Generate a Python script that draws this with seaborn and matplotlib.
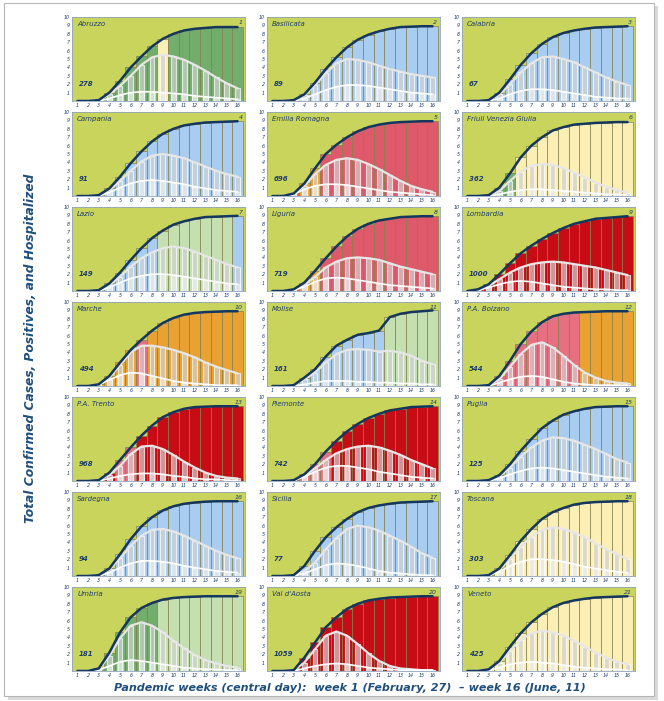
import numpy as np
import pandas as pd
import seaborn as sns
import matplotlib.pyplot as plt
from matplotlib.patches import Rectangle

weeks = list(range(1, 17))

regions = ['Abruzzo', 'Basilicata', 'Calabria', 'Campania', 'Emilia Romagna',
           'Friuli Venezia Giulia', 'Lazio', 'Liguria', 'Lombardia', 'Marche',
           'Molise', 'P.A. Bolzano', 'P.A. Trento', 'Piemonte', 'Puglia',
           'Sardegna', 'Sicilia', 'Toscana', 'Umbria', "Val d'Aosta", 'Veneto']
ranks = [1, 2, 3, 4, 5, 6, 7, 8, 9, 10, 11, 12, 13, 14, 15, 16, 17, 18, 19, 20, 21]
density = [278, 89, 67, 91, 696, 362, 149, 719, 1000, 494, 161, 544, 968, 742,
           125, 94, 77, 303, 181, 1059, 425]

# one letter per week -> colour of the cumulative bar
bar_codes = ['GGGGGGGGYGGGGGGG', 'BBBBBBBBBBBBBBBB', 'BBBBBBBBBBBBBBBB',
             'BBBBBBBBBBBBBBBB', 'RRROORRRRRRRRRRR', 'GGGGGYYYYYYYYYYY',
             'BBBBBBBBLLLLLLLB', 'RRROORRRRRRRRRRR', 'DDDDDDDDDDDDDDDD',
             'OOOOOOPOOOOOOOOO', 'BBBBBBBBBBBLLLLL', 'PPPPPPPPPPPOOOOO',
             'DDDDPPDDDDDDDDDD', 'DDDPPPDDDDDDDDDD', 'BBBBBBBBBBBBBBBB',
             'BBBBBBBBBBBBBBBB', 'BBBBBBBBBBBBBBBB', 'YYYYYYYYYYYYYYYY',
             'GGGGGGGGLLLLLLLL', 'DDDDDDDDDDDDDDDD', 'YYYYYYYYYYYYYYYY']

total = [
    [0, 0, 0.1, 1.0, 2.4, 4.0, 5.3, 6.5, 7.4, 8.0, 8.4, 8.6, 8.7, 8.8, 8.8, 8.8],
    [0, 0, 0.1, 0.8, 2.2, 3.8, 5.2, 6.4, 7.3, 7.9, 8.3, 8.6, 8.8, 8.85, 8.9, 8.9],
    [0, 0, 0.1, 1.0, 2.6, 4.3, 5.7, 6.8, 7.6, 8.1, 8.4, 8.6, 8.75, 8.8, 8.85, 8.9],
    [0, 0, 0.1, 0.9, 2.3, 3.9, 5.3, 6.5, 7.4, 8.0, 8.4, 8.6, 8.75, 8.8, 8.85, 8.9],
    [0, 0, 0.3, 1.5, 3.3, 5.0, 6.1, 7.0, 7.7, 8.2, 8.5, 8.7, 8.8, 8.85, 8.9, 8.9],
    [0, 0, 0.1, 1.0, 2.7, 4.6, 6.0, 7.0, 7.8, 8.2, 8.5, 8.6, 8.7, 8.75, 8.8, 8.8],
    [0, 0, 0.1, 0.9, 2.2, 3.7, 5.1, 6.3, 7.2, 7.9, 8.3, 8.6, 8.8, 8.85, 8.9, 8.95],
    [0, 0, 0.2, 1.0, 2.4, 3.9, 5.3, 6.5, 7.4, 8.0, 8.4, 8.6, 8.8, 8.85, 8.9, 8.9],
    [0, 0.2, 0.8, 2.0, 3.3, 4.5, 5.4, 6.2, 6.9, 7.5, 8.0, 8.3, 8.6, 8.7, 8.8, 8.9],
    [0, 0, 0.2, 1.2, 2.8, 4.3, 5.5, 6.6, 7.5, 8.1, 8.5, 8.7, 8.8, 8.85, 8.9, 8.9],
    [0, 0, 0.1, 1.0, 2.0, 3.5, 4.8, 5.5, 6.1, 6.3, 6.6, 8.2, 8.6, 8.8, 8.9, 9.0],
    [0, 0, 0.1, 1.2, 3.0, 5.0, 6.5, 7.6, 8.3, 8.6, 8.75, 8.8, 8.85, 8.9, 8.9, 8.9],
    [0, 0, 0.1, 1.0, 2.5, 4.0, 5.4, 6.6, 7.6, 8.2, 8.6, 8.8, 8.85, 8.9, 8.9, 8.9],
    [0, 0, 0.1, 0.8, 2.0, 3.5, 4.8, 5.9, 6.8, 7.5, 8.0, 8.4, 8.6, 8.8, 8.85, 8.9],
    [0, 0, 0.1, 0.7, 2.0, 3.6, 5.0, 6.3, 7.2, 7.9, 8.3, 8.6, 8.8, 8.85, 8.9, 8.9],
    [0, 0, 0.1, 0.9, 2.6, 4.4, 5.9, 7.0, 7.8, 8.3, 8.6, 8.75, 8.85, 8.9, 8.9, 8.9],
    [0, 0, 0.1, 1.2, 3.0, 4.6, 5.8, 6.8, 7.6, 8.1, 8.4, 8.6, 8.75, 8.8, 8.85, 8.9],
    [0, 0, 0.1, 0.9, 2.5, 4.2, 5.6, 6.8, 7.6, 8.1, 8.5, 8.7, 8.8, 8.85, 8.9, 8.9],
    [0, 0, 0.3, 2.2, 4.6, 6.4, 7.5, 8.1, 8.5, 8.7, 8.8, 8.85, 8.9, 8.9, 8.9, 8.9],
    [0, 0, 0.1, 1.6, 3.4, 5.2, 6.4, 7.4, 8.0, 8.4, 8.6, 8.75, 8.8, 8.85, 8.9, 8.9],
    [0, 0, 0.2, 1.2, 2.9, 4.5, 5.8, 6.8, 7.6, 8.1, 8.4, 8.6, 8.75, 8.8, 8.85, 8.9],
]

positives = [
    [0, 0, 0.1, 0.8, 1.8, 3.0, 4.3, 5.2, 5.5, 5.3, 4.9, 4.3, 3.6, 2.8, 2.1, 1.5],
    [0, 0, 0.1, 0.7, 1.9, 3.3, 4.5, 5.0, 4.9, 4.6, 4.2, 3.8, 3.5, 3.2, 3.0, 2.8],
    [0, 0, 0.1, 0.8, 2.0, 3.4, 4.5, 5.2, 5.3, 5.0, 4.6, 4.0, 3.4, 2.8, 2.3, 1.9],
    [0, 0, 0.1, 0.7, 1.8, 3.0, 4.1, 4.8, 5.0, 4.8, 4.5, 4.0, 3.5, 3.0, 2.6, 2.3],
    [0, 0, 0.3, 1.2, 2.6, 3.7, 4.3, 4.5, 4.3, 3.8, 3.2, 2.5, 1.8, 1.2, 0.8, 0.5],
    [0, 0, 0, 0.6, 1.8, 2.9, 3.6, 3.8, 3.7, 3.3, 2.8, 2.2, 1.6, 1.1, 0.7, 0.4],
    [0, 0, 0.1, 0.7, 1.7, 2.9, 3.9, 4.6, 5.1, 5.3, 5.1, 4.7, 4.2, 3.7, 3.2, 2.8],
    [0, 0, 0.1, 0.7, 1.7, 2.8, 3.5, 3.9, 4.0, 3.9, 3.7, 3.3, 2.9, 2.6, 2.3, 2.0],
    [0, 0.1, 0.6, 1.4, 2.2, 2.8, 3.2, 3.4, 3.5, 3.4, 3.2, 3.0, 2.8, 2.5, 2.2, 1.9],
    [0, 0, 0.2, 1.0, 2.5, 4.0, 4.8, 4.8, 4.6, 4.3, 3.9, 3.4, 2.8, 2.3, 1.9, 1.5],
    [0, 0, 0.1, 0.8, 1.6, 2.8, 3.8, 4.3, 4.4, 4.3, 4.1, 4.2, 4.0, 3.6, 3.0, 2.6],
    [0, 0, 0.1, 0.8, 2.3, 3.8, 4.9, 5.2, 4.6, 3.6, 2.5, 1.6, 1.0, 0.6, 0.4, 0.3],
    [0, 0, 0.1, 0.7, 1.8, 3.2, 4.1, 4.2, 3.8, 3.1, 2.3, 1.6, 1.0, 0.6, 0.4, 0.3],
    [0, 0, 0.1, 0.6, 1.5, 2.5, 3.3, 3.8, 4.1, 4.2, 4.0, 3.6, 3.1, 2.5, 2.0, 1.5],
    [0, 0, 0.1, 0.6, 1.6, 2.9, 4.0, 4.8, 5.2, 5.1, 4.8, 4.3, 3.8, 3.2, 2.6, 2.2],
    [0, 0, 0.1, 0.8, 2.1, 3.6, 4.8, 5.5, 5.6, 5.3, 4.8, 4.2, 3.6, 3.0, 2.5, 2.1],
    [0, 0, 0, 0.6, 1.6, 3.2, 4.5, 5.6, 6.0, 5.8, 5.4, 4.8, 4.2, 3.5, 2.7, 2.2],
    [0, 0, 0.1, 0.8, 2.0, 3.5, 4.7, 5.5, 5.8, 5.6, 5.2, 4.6, 3.9, 3.2, 2.6, 2.0],
    [0, 0, 0.2, 1.8, 3.9, 5.4, 5.8, 5.4, 4.6, 3.6, 2.7, 1.9, 1.3, 0.9, 0.6, 0.4],
    [0, 0, 0.1, 1.0, 2.6, 4.2, 4.7, 4.2, 3.2, 2.1, 1.2, 0.6, 0.3, 0.2, 0.1, 0.1],
    [0, 0, 0.2, 1.0, 2.4, 3.7, 4.5, 4.8, 4.6, 4.2, 3.6, 2.9, 2.2, 1.6, 1.1, 0.8],
]

hospitalized = [
    [0, 0, 0, 0.3, 0.7, 1.0, 1.1, 1.1, 1.0, 0.9, 0.8, 0.6, 0.5, 0.4, 0.3, 0.2],
    [0, 0, 0, 0.3, 0.8, 1.3, 1.7, 1.9, 1.9, 1.8, 1.6, 1.4, 1.2, 1.0, 0.9, 0.8],
    [0, 0, 0, 0.3, 0.8, 1.2, 1.4, 1.4, 1.3, 1.1, 0.9, 0.7, 0.5, 0.4, 0.3, 0.3],
    [0, 0, 0, 0.4, 1.0, 1.5, 1.8, 1.9, 1.8, 1.6, 1.4, 1.1, 0.9, 0.7, 0.6, 0.5],
    [0, 0, 0.2, 0.8, 1.2, 1.4, 1.4, 1.3, 1.1, 0.9, 0.7, 0.5, 0.4, 0.3, 0.2, 0.1],
    [0, 0, 0, 0.2, 0.5, 0.7, 0.8, 0.8, 0.7, 0.6, 0.5, 0.4, 0.3, 0.2, 0.2, 0.1],
    [0, 0, 0, 0.4, 1.0, 1.5, 1.8, 2.0, 2.0, 1.9, 1.7, 1.5, 1.3, 1.1, 0.9, 0.8],
    [0, 0, 0.1, 0.5, 1.1, 1.5, 1.6, 1.5, 1.3, 1.1, 0.9, 0.7, 0.6, 0.5, 0.4, 0.3],
    [0, 0.1, 0.4, 0.8, 1.1, 1.2, 1.1, 0.9, 0.7, 0.5, 0.4, 0.3, 0.2, 0.2, 0.1, 0.1],
    [0, 0, 0.2, 0.7, 1.3, 1.6, 1.5, 1.2, 0.9, 0.6, 0.4, 0.3, 0.2, 0.1, 0.1, 0.1],
    [0, 0, 0, 0.2, 0.4, 0.6, 0.6, 0.6, 0.5, 0.5, 0.4, 0.4, 0.3, 0.3, 0.2, 0.2],
    [0, 0, 0, 0.4, 0.8, 1.1, 1.2, 1.1, 0.8, 0.5, 0.3, 0.2, 0.1, 0.1, 0.1, 0.1],
    [0, 0, 0, 0.3, 0.6, 0.8, 0.9, 0.9, 0.8, 0.6, 0.5, 0.3, 0.2, 0.2, 0.1, 0.1],
    [0, 0, 0.1, 0.5, 1.1, 1.6, 1.8, 1.8, 1.6, 1.4, 1.1, 0.9, 0.7, 0.5, 0.4, 0.3],
    [0, 0, 0, 0.3, 0.8, 1.2, 1.5, 1.6, 1.5, 1.3, 1.1, 0.9, 0.7, 0.5, 0.4, 0.3],
    [0, 0, 0, 0.4, 1.0, 1.5, 1.8, 1.8, 1.7, 1.5, 1.2, 1.0, 0.8, 0.6, 0.5, 0.4],
    [0, 0, 0, 0.3, 0.8, 1.3, 1.5, 1.4, 1.2, 0.9, 0.6, 0.4, 0.3, 0.2, 0.1, 0.1],
    [0, 0, 0.1, 0.5, 1.2, 1.7, 2.0, 2.0, 1.9, 1.7, 1.4, 1.1, 0.9, 0.7, 0.5, 0.4],
    [0, 0, 0.1, 0.6, 1.1, 1.3, 1.2, 1.0, 0.8, 0.6, 0.4, 0.3, 0.2, 0.2, 0.1, 0.1],
    [0, 0, 0, 0.3, 0.6, 0.8, 0.9, 0.8, 0.6, 0.4, 0.3, 0.2, 0.1, 0.1, 0.1, 0.1],
    [0, 0, 0.1, 0.4, 0.8, 1.0, 1.1, 1.0, 0.9, 0.7, 0.5, 0.4, 0.3, 0.2, 0.2, 0.1],
]

palette = {'G': '#72ad6c', 'L': '#c4dfb0', 'B': '#a9cdf0', 'Y': '#fcefb6',
           'R': '#de5a6a', 'D': '#c80c16', 'O': '#e9a132', 'P': '#e6707f'}
navy = '#14365f'
text_col = '#1d3d6b'

sns.set_theme(style='white')
plt.rcParams['font.family'] = ['DejaVu Sans']

W, H = 664, 701
fig = plt.figure(figsize=(W / 100, H / 100), dpi=100)
fig.patch.set_facecolor('white')

# outer frame with a soft shadow (behind the panels)
fig.patches.append(Rectangle((8 / W, 1 - 700 / H), 650 / W, 694 / H, transform=fig.transFigure,
                             facecolor='#d9d9d9', edgecolor='none', zorder=-3))
fig.patches.append(Rectangle((4 / W, 1 - 696 / H), 650 / W, 693 / H, transform=fig.transFigure,
                             facecolor='white', edgecolor='#b5b5b5', lw=0.8, zorder=-2))

col_left = [72, 267, 462]
pw, ph = 173, 84

for i, name in enumerate(regions):
    r, c = divmod(i, 3)
    top = 17 + 95 * r
    ax = fig.add_axes([col_left[c] / W, 1 - (top + ph) / H, pw / W, ph / H])
    ax.set_facecolor('#c9d45c')

    cols = [palette[k] for k in bar_codes[i]]
    ax.bar(weeks, total[i], width=1.0, color=cols, edgecolor='#857f52', linewidth=0.5, zorder=1)
    ax.bar(weeks, positives[i], width=0.45, color='#d0d0d0', alpha=0.7,
           edgecolor='white', linewidth=0.8, zorder=2)
    ax.bar(weeks, hospitalized[i], width=0.5, color='white', alpha=0.45,
           edgecolor='white', linewidth=0.9, zorder=3)

    sns.lineplot(x=weeks, y=positives[i], ax=ax, color='#e6e6e6', lw=1.6, zorder=4)
    sns.lineplot(x=weeks, y=hospitalized[i], ax=ax, color='white', lw=1.2, zorder=4)
    sns.lineplot(x=weeks, y=total[i], ax=ax, color=navy, lw=1.8, zorder=5)

    ax.set_xlim(0.5, 16.7)
    ax.set_ylim(0, 10)
    ax.set_xticks(weeks)
    ax.set_yticks(range(1, 11))
    ax.set_xticklabels([str(w) for w in weeks], fontsize=3.4, style='italic', color=text_col)
    ax.set_yticklabels([str(v) for v in range(1, 11)], fontsize=3.4, style='italic', color=text_col)
    ax.tick_params(length=0, pad=1.5)
    ax.set_xlabel('')
    ax.set_ylabel('')
    for s in ax.spines.values():
        s.set_color('#8fa3bb')
        s.set_linewidth(0.6)

    ax.text(0.03, 0.95, name, transform=ax.transAxes, ha='left', va='top',
            fontsize=5, style='italic', color=text_col)
    ax.text(0.985, 0.965, str(ranks[i]), transform=ax.transAxes, ha='right', va='top',
            fontsize=4.5, style='italic', color=text_col)
    ax.text(0.04, 0.2, str(density[i]), transform=ax.transAxes, ha='left', va='center',
            fontsize=5, style='italic', weight='bold', color=text_col)

fig.text(31 / W, 1 - 348 / H, 'Total Confirmed Cases, Positives, and Hospitalized',
         rotation=90, ha='center', va='center', fontsize=8.8, style='italic',
         weight='bold', color='#1f4f7c')
fig.text(350 / W, 1 - 688 / H,
         'Pandemic weeks (central day):  week 1 (February, 27)  \u2013 week 16 (June, 11)',
         ha='center', va='center', fontsize=8, style='italic', weight='bold', color='#1f4f7c')

fig.savefig('out.png', dpi=100)
